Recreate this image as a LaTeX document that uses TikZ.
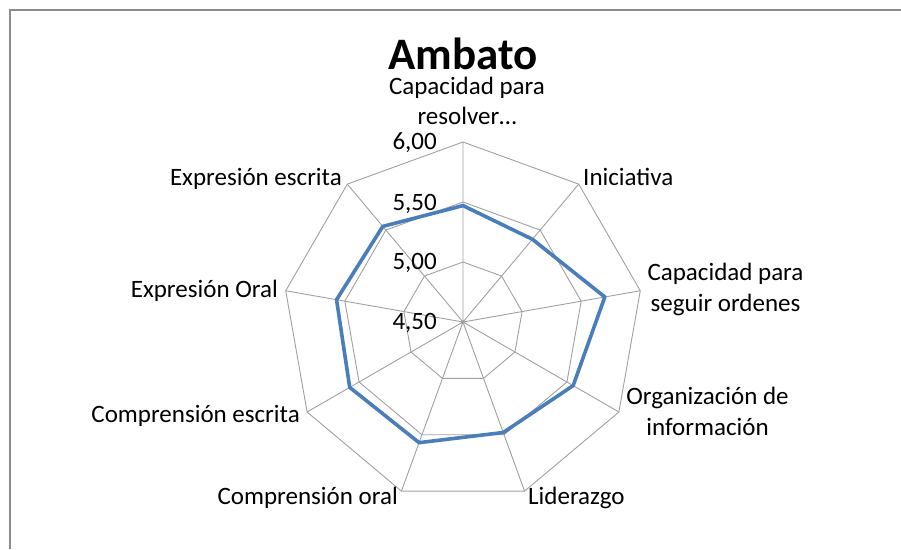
\documentclass[tikz,border=0pt]{standalone}
\usepackage{fontspec}
\setmainfont{Carlito}
\usepackage{tikz}
\definecolor{rejilla}{RGB}{160,160,160}
\definecolor{azul}{RGB}{74,126,187}
\definecolor{marco}{RGB}{140,140,140}

\begin{document}
\begin{tikzpicture}[
  x=1pt, y=1pt,
  malla/.style={draw=rejilla, line width=0.9pt},
  serie/.style={draw=azul, line width=3.6pt, line join=round},
  etiq/.style={inner sep=0pt, font=\fontsize{25}{30.5}\selectfont, align=center},
  eje/.style={inner sep=0pt, font=\fontsize{25}{30}\selectfont, anchor=base east},
]
\useasboundingbox (-463,-227) rectangle (438,322);
\draw[marco, line width=2pt] (-453,-227) -- (-453,312) -- (438,312);
% rejilla
\draw[malla] (90:60) -- (50:60) -- (10:60) -- (-30:60) -- (-70:60) -- (-110:60) -- (-150:60) -- (170:60) -- (130:60) -- cycle;
\draw[malla] (90:120) -- (50:120) -- (10:120) -- (-30:120) -- (-70:120) -- (-110:120) -- (-150:120) -- (170:120) -- (130:120) -- cycle;
\draw[malla] (90:180) -- (50:180) -- (10:180) -- (-30:180) -- (-70:180) -- (-110:180) -- (-150:180) -- (170:180) -- (130:180) -- cycle;
\coordinate (c) at (0,0);
\draw[malla] (c) -- (90:180) (c) -- (50:180) (c) -- (10:180) (c) -- (-30:180) (c) -- (-70:180)
  (c) -- (-110:180) (c) -- (-150:180) (c) -- (170:180) (c) -- (130:180);
% serie
\draw[serie] (90:116.4) -- (50:108) -- (10:144) -- (-30:127.2) -- (-70:117.6) -- (-110:128.4) -- (-150:130.8) -- (170:128.4) -- (130:124.8) -- cycle;
% valores del eje
\node[eje] (v600) at (-26,172) {6,00};
\node[eje] (v550) at (-26,112) {5,50};
\node[eje] (v500) at (-26,53) {5,00};
\node[eje] (v450) at (-26,-7) {4,50};
% titulo y etiquetas
\node[anchor=base, inner sep=0pt, font=\fontsize{45}{54}\bfseries] (titulo) at (0,252) {Ambato};
\node[etiq, anchor=base] (resolver) at (4,197) {Capacidad para\\resolver…};
\node[etiq, anchor=base west] (inic) at (120,136) {Iniciativa};
\node[etiq, anchor=base] (ordenes) at (262.5,11) {Capacidad para\\seguir ordenes};
\node[etiq, anchor=base] (organiz) at (244.5,-113) {Organización de\\información};
\node[etiq, anchor=base west] (lider) at (65,-182) {Liderazgo};
\node[etiq, anchor=base east] (comporal) at (-65,-182) {Comprensión oral};
\node[etiq, anchor=base east] (compesc) at (-163,-100) {Comprensión escrita};
\node[etiq, anchor=base east] (exporal) at (-185,25) {Expresión Oral};
\node[etiq, anchor=base east] (expesc) at (-121,136) {Expresión escrita};
\end{tikzpicture}
\end{document}
